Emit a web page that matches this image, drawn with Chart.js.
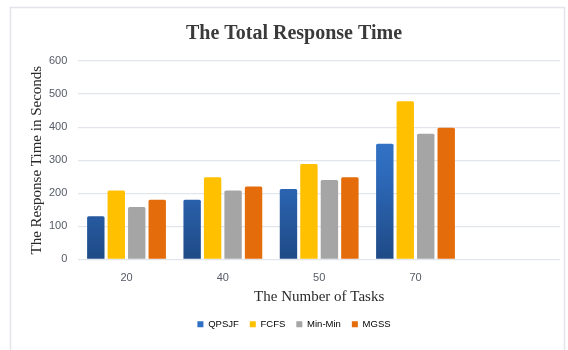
<!DOCTYPE html>
<html>
<head>
<meta charset="utf-8">
<script src="https://cdn.jsdelivr.net/npm/chart.js@4/dist/chart.umd.min.js"></script>
<style>
  html, body { margin: 0; padding: 0; background: #ffffff; }
  #wrap { position: relative; width: 568px; height: 350px; }
</style>
</head>
<body>
<div id="wrap"><canvas id="chart" width="568" height="350"></canvas></div>
<script>
// Task counts along the x axis (the trailing blank slot keeps room on the right)
const categories = ['20', '40', '50', '70', ''];

// Total response time in seconds for each scheduler
const qpsjf  = [130, 180, 213, 350, null];
const fcfs   = [208, 248, 288, 478, null];
const minMin = [158, 208, 240, 380, null];
const mgss   = [180, 220, 248, 398, null];

const seriesNames = ['QPSJF', 'FCFS', 'Min-Min', 'MGSS'];
const yTicks = [0, 100, 200, 300, 400, 500, 600];

// Blue bars fade from a bright top to a deep navy base
function blueFill(ctx) {
  const area = ctx.chart.chartArea;
  if (!area) return '#2f6fc4';
  const g = ctx.chart.ctx.createLinearGradient(0, area.top, 0, area.bottom);
  g.addColorStop(0, '#3d86dc');
  g.addColorStop(0.55, '#2e6bbd');
  g.addColorStop(1, '#1f4a86');
  return g;
}

// Thin light frame around the whole figure
const framePlugin = {
  id: 'frame',
  beforeDraw(chart) {
    const c = chart.ctx;
    c.save();
    c.fillStyle = '#ffffff';
    c.fillRect(0, 0, chart.width, chart.height);
    c.strokeStyle = '#e4e4ea';
    c.lineWidth = 1.5;
    c.strokeRect(10.5, 7.5, 554, 400);
    c.restore();
  }
};

new Chart(document.getElementById('chart'), {
  type: 'bar',
  data: {
    labels: categories,
    datasets: [
      { label: seriesNames[0], data: qpsjf,  backgroundColor: blueFill },
      { label: seriesNames[1], data: fcfs,   backgroundColor: '#ffc000' },
      { label: seriesNames[2], data: minMin, backgroundColor: '#a5a5a5' },
      { label: seriesNames[3], data: mgss,   backgroundColor: '#e46c0a' }
    ]
  },
  options: {
    responsive: false,
    animation: false,
    devicePixelRatio: 1,
    datasets: {
      bar: { categoryPercentage: 0.85, barPercentage: 0.85, borderRadius: 1.5 }
    },
    layout: { padding: { top: 22, left: 28, right: 8, bottom: 11 } },
    plugins: {
      title: {
        display: true,
        text: 'The Total Response Time',
        color: '#3a3a3a',
        font: { family: 'Liberation Serif', size: 20, weight: 'bold' },
        padding: { top: 0, bottom: 15 }
      },
      legend: {
        position: 'bottom',
        labels: {
          color: '#555a66',
          font: { family: 'Liberation Sans', size: 9.5 },
          boxWidth: 6,
          boxHeight: 6,
          padding: 11,
          generateLabels(chart) {
            const cols = ['#2f6fc4', '#ffc000', '#a5a5a5', '#e46c0a'];
            return chart.data.datasets.map((d, i) => ({
              text: d.label, fillStyle: cols[i], strokeStyle: cols[i],
              lineWidth: 0, datasetIndex: i, hidden: false
            }));
          }
        }
      },
      tooltip: { enabled: false }
    },
    scales: {
      x: {
        grid: { display: false },
        border: { display: false },
        ticks: { color: '#555a66', font: { family: 'Liberation Sans', size: 11 }, padding: 4 },
        title: {
          display: true,
          text: 'The Number of Tasks',
          color: '#2a2a2a',
          font: { family: 'Liberation Serif', size: 15 },
          padding: { top: 0, bottom: 2 }
        }
      },
      y: {
        min: 0,
        max: 600,
        afterBuildTicks(axis) { axis.ticks = yTicks.map(v => ({ value: v })); },
        grid: { color: '#e2e5ec', lineWidth: 1.2, drawTicks: false },
        border: { display: false },
        ticks: { color: '#555a66', font: { family: 'Liberation Sans', size: 11 }, padding: 11 },
        title: {
          display: true,
          text: 'The Response Time in Seconds',
          color: '#2a2a2a',
          font: { family: 'Liberation Serif', size: 15 },
          padding: { top: 0, bottom: -8 }
        }
      }
    }
  },
  plugins: [framePlugin]
});
</script>
</body>
</html>
